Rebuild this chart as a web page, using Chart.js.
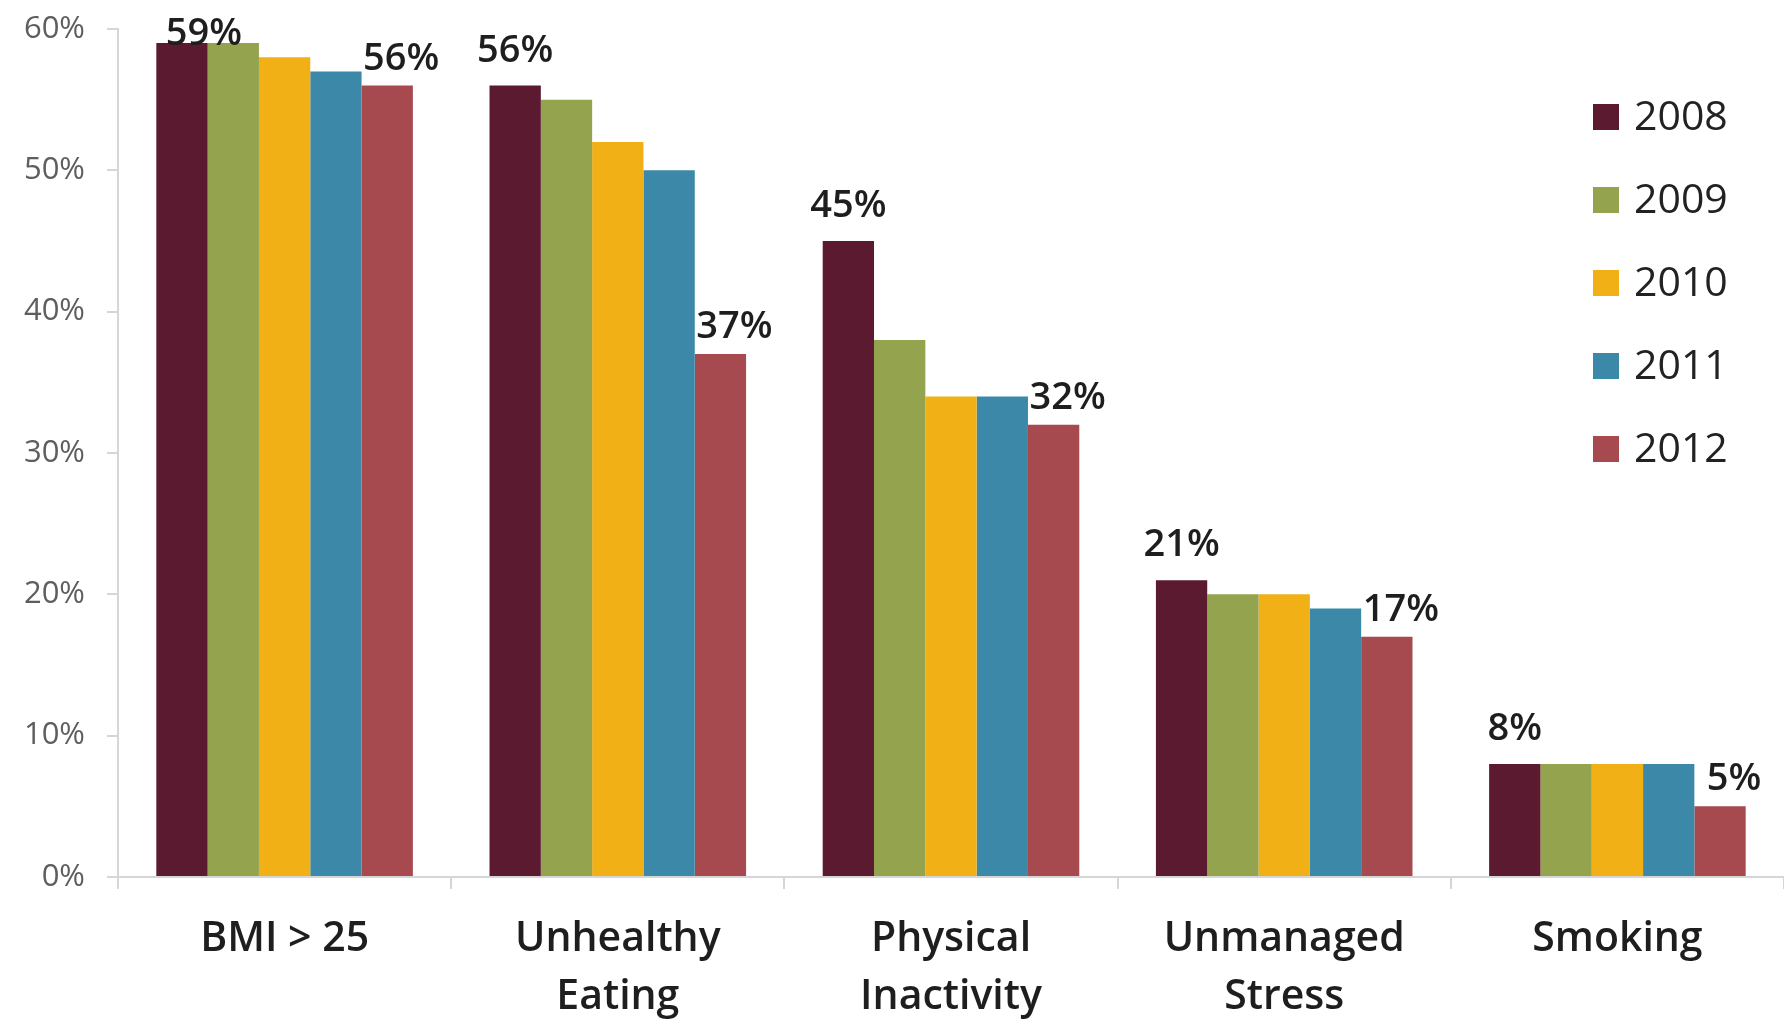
<!DOCTYPE html>
<html>
<head>
<meta charset="utf-8">
<title>Health Risk Trends 2008-2012</title>
<script src="https://cdn.jsdelivr.net/npm/chart.js@4/dist/chart.umd.min.js"></script>
<style>
    html, body { margin: 0; padding: 0; background: #ffffff; }
    #wrap { position: relative; width: 1784px; height: 1021px; }
</style>
</head>
<body>
<div id="wrap"><canvas id="riskChart" width="1784" height="1021"></canvas></div>
<script>
// Risk categories along the x axis (multi-line labels)
const categories = [['BMI > 25'], ['Unhealthy', 'Eating'], ['Physical', 'Inactivity'], ['Unmanaged', 'Stress'], ['Smoking']];

// Survey years
const years = ['2008', '2009', '2010', '2011', '2012'];

// Share of population per year, in percent
const values2008 = [59, 56, 45, 21, 8];
const values2009 = [59, 55, 38, 20, 8];
const values2010 = [58, 52, 34, 20, 8];
const values2011 = [57, 50, 34, 19, 8];
const values2012 = [56, 37, 32, 17, 5];

// Y axis ticks
const yTicks = [0, 10, 20, 30, 40, 50, 60];

const seriesColors = ['#5b1a2f', '#94a34d', '#f0b016', '#3b88a9', '#a64a50'];
const FONT = '"Open Sans", Lato, sans-serif';

/**
 * Value labels above the first and last year of each category
 */
const valueLabels = {
    id: 'valueLabels',
    afterDatasetsDraw(chart) {
        const ctx = chart.ctx;
        const labelled = [0, chart.data.datasets.length - 1];
        ctx.save();
        ctx.font = '600 38px ' + FONT;
        ctx.fillStyle = '#1e1e1e';
        ctx.textAlign = 'center';
        ctx.textBaseline = 'alphabetic';
        labelled.forEach((dsIndex, n) => {
            const meta = chart.getDatasetMeta(dsIndex);
            meta.data.forEach((bar, i) => {
                const v = chart.data.datasets[dsIndex].data[i];
                let x = bar.x + (n === 1 ? 14 : 0);
                let y = bar.y - (n === 1 ? 16 : 24);
                // keep the tallest label inside the canvas
                if (y < 45) {
                    y = 45;
                    x += 22;
                }
                ctx.fillText(v + '%', x, y);
            });
        });
        ctx.restore();
    }
};

/**
 * Legend drawn over the right side of the plot
 */
const sideLegend = {
    id: 'sideLegend',
    afterDraw(chart) {
        const ctx = chart.ctx;
        ctx.save();
        ctx.font = '41px ' + FONT;
        ctx.textBaseline = 'middle';
        ctx.textAlign = 'left';
        chart.data.datasets.forEach((ds, i) => {
            const cy = 117 + i * 83;
            ctx.fillStyle = ds.backgroundColor;
            ctx.fillRect(1593, cy - 13, 26, 26);
            ctx.fillStyle = '#222222';
            ctx.fillText(ds.label, 1634, cy + 1);
        });
        ctx.restore();
    }
};

const allValues = [values2008, values2009, values2010, values2011, values2012];

new Chart(document.getElementById('riskChart'), {
    type: 'bar',
    data: {
        labels: categories,
        datasets: years.map((year, i) => ({
            label: year,
            data: allValues[i],
            backgroundColor: seriesColors[i],
            borderWidth: 0,
            categoryPercentage: 0.77,
            barPercentage: 1.0
        }))
    },
    options: {
        responsive: false,
        animation: false,
        devicePixelRatio: 1,
        layout: {
            padding: { top: 0, left: 0, right: 0, bottom: 0 }
        },
        plugins: {
            legend: { display: false },
            tooltip: { enabled: false }
        },
        scales: {
            x: {
                border: { color: '#d6d6d6', width: 2 },
                grid: {
                    drawOnChartArea: false,
                    offset: true,
                    color: '#d6d6d6',
                    tickLength: 12,
                    lineWidth: 2
                },
                ticks: {
                    color: '#1e1e1e',
                    font: { family: FONT, size: 41, weight: 600, lineHeight: 1.42 },
                    padding: 21,
                    maxRotation: 0
                },
                afterFit(scale) {
                    scale.height = 144;
                }
            },
            y: {
                min: 0,
                max: 60,
                border: { color: '#d6d6d6', width: 2 },
                grid: {
                    drawOnChartArea: false,
                    color: '#d6d6d6',
                    tickLength: 11,
                    lineWidth: 2
                },
                afterBuildTicks(scale) {
                    scale.ticks = yTicks.map(v => ({ value: v }));
                },
                ticks: {
                    color: '#5e5e5e',
                    // small lineHeight keeps the top label from pushing the plot down
                    font: { family: FONT, size: 31, lineHeight: 0.45 },
                    padding: 22,
                    callback: v => v + '%'
                },
                afterFit(scale) {
                    scale.width = 118;
                }
            }
        }
    },
    plugins: [valueLabels, sideLegend]
});
</script>
</body>
</html>
